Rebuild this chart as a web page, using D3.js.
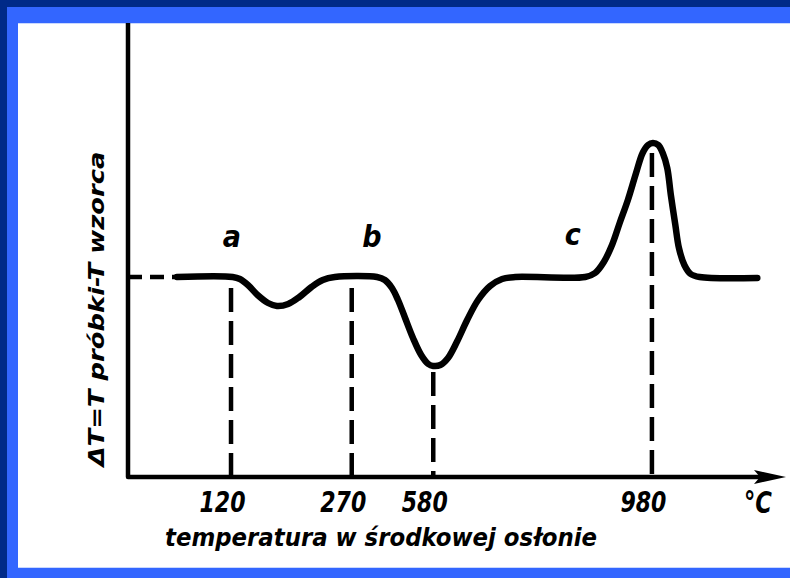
<!DOCTYPE html>
<html>
<head>
<meta charset="utf-8">
<script src="https://cdn.jsdelivr.net/npm/d3@7"></script>
<style>
  html, body { margin: 0; padding: 0; background: #fff; }
  svg { display: block; }
  .lbl { font-family: "DejaVu Sans Condensed", "DejaVu Sans", sans-serif; font-stretch: condensed; font-weight: bold; font-style: italic; fill: #000; }
</style>
</head>
<body>
<svg id="chart" width="790" height="578"></svg>
<script>
// DTA curve: temperature (°C) vs. ΔT (arbitrary units, 0 = baseline)
const curveTemp = [57, 122, 131, 141, 153, 166, 177, 191, 205, 220, 234, 249,
  366, 396, 423, 446, 473, 503, 534, 561, 580, 593, 607, 624, 642, 662, 684, 706, 730,
  858, 876, 892, 907, 921, 936, 951, 963, 973, 981, 987, 992, 997, 1001, 1006, 1010, 1016, 1023, 1033, 1097];
const curveDT = [0, 0, -0.2, -0.8, -1.8, -2.6, -2.9, -2.7, -2.0, -1.0, -0.3, 0,
  0, -0.3, -1.1, -2.3, -4.1, -6.1, -7.8, -8.7, -8.9, -8.8, -8.1, -6.4, -4.3, -2.3, -0.9, -0.2, 0,
  0, 0.4, 1.5, 3.2, 5.4, 7.7, 10.4, 12.4, 13.2, 13.4, 13.2, 12.4, 10.9, 8.2, 5.2, 2.9, 1.2, 0.3, 0, -0.1];

// characteristic temperatures marked on the axis
const tickTemps = [120, 270, 580, 980];
const tickLabels = ["120", "270", "580", "980"];
// ΔT level where each guide line starts
const guideTop = [-1.1, -1.1, -9.5, 12.4];
// transformation labels
const stageLabels = ["a", "b", "c"];
const stageTemps = [121, 347, 835];
const stageDT = [3.0, 3.0, 3.2];

const svg = d3.select("#chart");
const W = 790, H = 578;

// frame
svg.append("rect").attr("width", W).attr("height", H).attr("fill", "#002a88");
svg.append("rect").attr("x", 7).attr("y", 7).attr("width", W - 7).attr("height", H - 7).attr("fill", "#3366ff");
svg.append("rect").attr("x", 18).attr("y", 23).attr("width", W - 18).attr("height", 545).attr("fill", "#c9d8ff");
svg.append("rect").attr("x", 18).attr("y", 24).attr("width", W - 18).attr("height", 543).attr("fill", "#ffffff");

const plotLeft = 128, plotRight = 760, plotTop = 23, plotBottom = 477;
const span = plotRight - plotLeft;
// schematic (non-uniform) temperature axis
const x = d3.scaleLinear()
  .domain([0, 120, 270, 580, 980, 1100])
  .range([0, 0.163, 0.354, 0.483, 0.829, 1].map(f => plotLeft + f * span));
const y = d3.scaleLinear().domain([-20, 25.4]).range([plotBottom, plotTop]);

// guide lines down to the axis
svg.append("g").selectAll("line").data(tickTemps).join("line")
  .attr("x1", d => x(d)).attr("x2", d => x(d))
  .attr("y1", (d, i) => y(guideTop[i])).attr("y2", plotBottom)
  .attr("stroke", "#000").attr("stroke-width", 4.5)
  .attr("stroke-dasharray", "24,9");

// dashed baseline before the curve
svg.append("line")
  .attr("x1", plotLeft).attr("x2", x(curveTemp[0]))
  .attr("y1", y(0)).attr("y2", y(0))
  .attr("stroke", "#000").attr("stroke-width", 4.5)
  .attr("stroke-dasharray", "14,8");

// DTA curve
const pts = curveTemp.map((t, i) => [t, curveDT[i]]);
svg.append("path")
  .datum(pts)
  .attr("d", d3.line().x(d => x(d[0])).y(d => y(d[1])).curve(d3.curveCatmullRom.alpha(0.5)))
  .attr("fill", "none").attr("stroke", "#000").attr("stroke-width", 6.5)
  .attr("stroke-linecap", "round").attr("stroke-linejoin", "round");

// axes
svg.append("path")
  .attr("d", `M${plotLeft},${plotTop}V${plotBottom}H${plotRight + 8}`)
  .attr("fill", "none").attr("stroke", "#000").attr("stroke-width", 4.5)
  .attr("stroke-linejoin", "round");
svg.append("path")
  .attr("d", `M${plotRight - 6},${plotBottom - 7} L${plotRight + 26},${plotBottom} L${plotRight - 6},${plotBottom + 7} L${plotRight},${plotBottom} Z`)
  .attr("fill", "#000");

const xAxis = d3.axisBottom(x).tickValues(tickTemps).tickSize(0).tickPadding(0)
  .tickFormat((d, i) => tickLabels[i]);
const gx = svg.append("g").attr("transform", `translate(0,${plotBottom})`).call(xAxis);
gx.select(".domain").remove();
gx.selectAll("text")
  .attr("class", "lbl").attr("font-size", 29)
  .attr("dy", 0).attr("y", 35).attr("dx", -9)
  .attr("textLength", 46).attr("lengthAdjust", "spacingAndGlyphs")
  .attr("fill", "#000");

svg.append("text").attr("class", "lbl").attr("font-size", 30)
  .attr("x", 758).attr("y", 513).attr("text-anchor", "middle")
  .attr("textLength", 28).attr("lengthAdjust", "spacingAndGlyphs")
  .text("°C");

// stage labels
svg.append("g").selectAll("text").data(stageLabels).join("text")
  .attr("class", "lbl").attr("font-size", 30)
  .attr("x", (d, i) => x(stageTemps[i])).attr("y", (d, i) => y(stageDT[i]))
  .attr("text-anchor", "middle").text(d => d);

// axis titles
svg.append("text").attr("class", "lbl").attr("font-size", 24)
  .attr("x", 381).attr("y", 546).attr("text-anchor", "middle")
  .attr("textLength", 432).attr("lengthAdjust", "spacingAndGlyphs")
  .text("temperatura w środkowej osłonie");

svg.append("text").attr("class", "lbl").attr("font-size", 22)
  .attr("transform", "translate(104,309) rotate(-90)")
  .attr("text-anchor", "middle")
  .attr("textLength", 315).attr("lengthAdjust", "spacingAndGlyphs")
  .text("ΔT=T próbki-T wzorca");
</script>
</body>
</html>
